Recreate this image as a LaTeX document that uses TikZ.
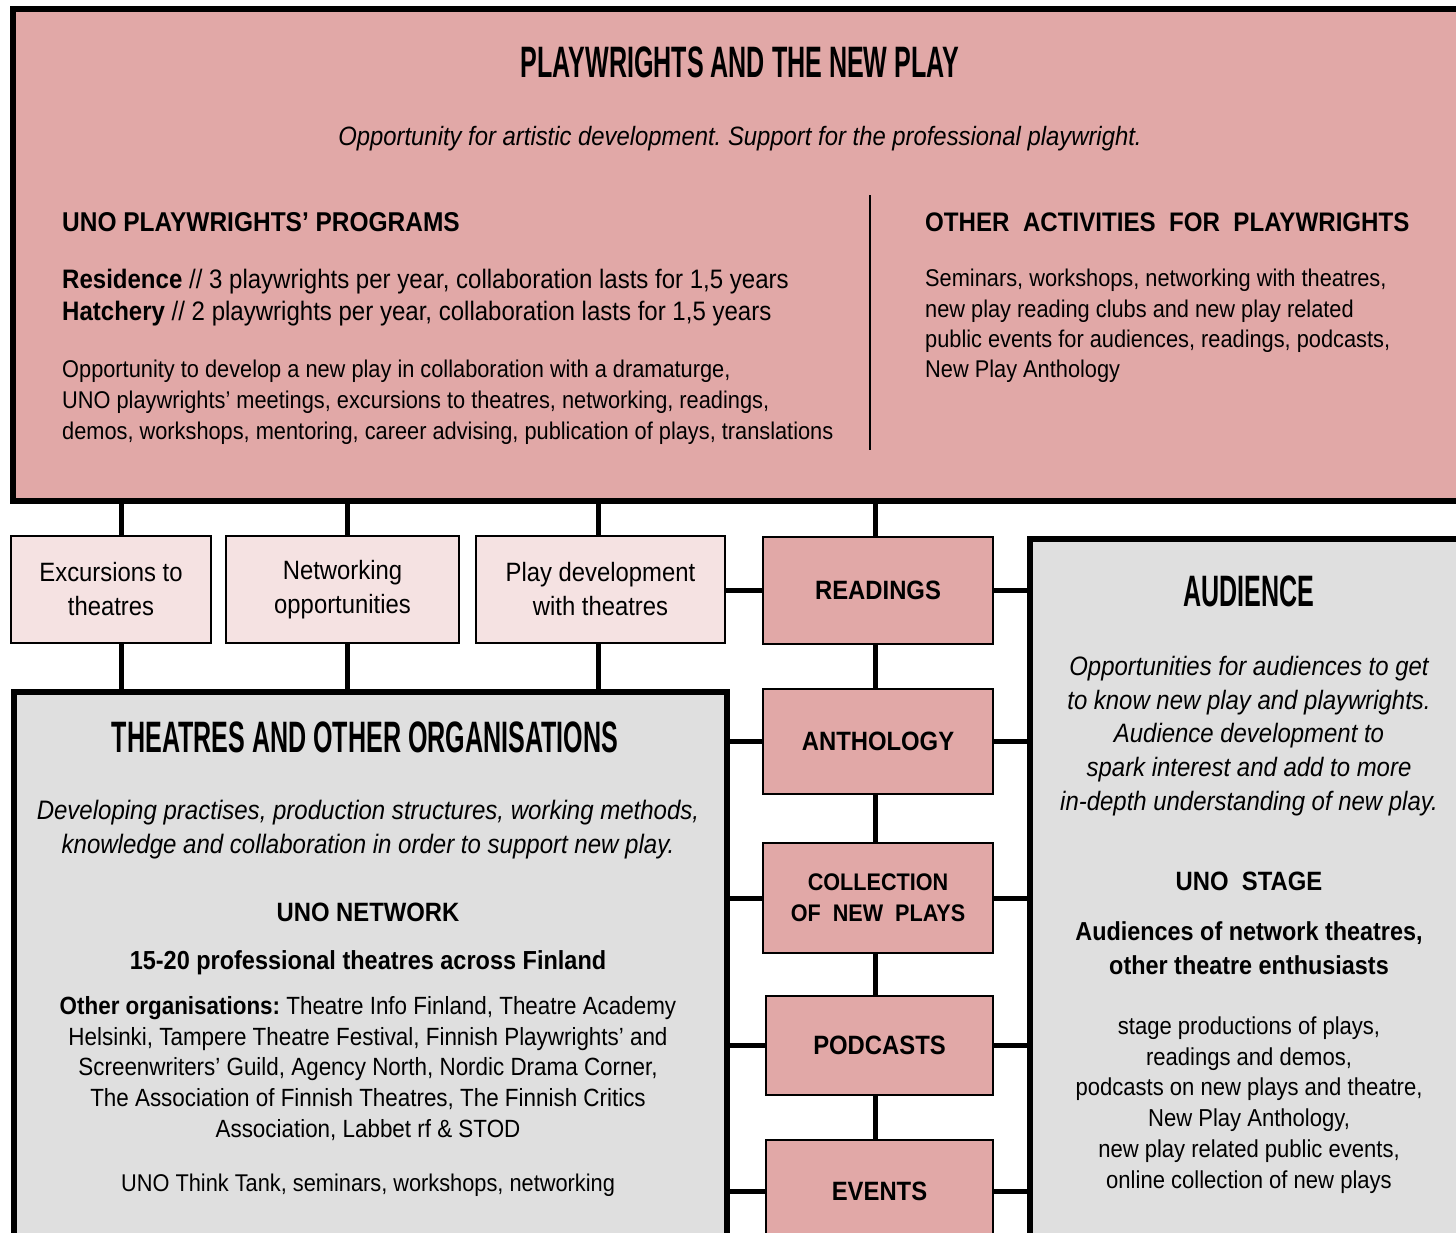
\documentclass[tikz,border=0pt]{standalone}
\usepackage{fontspec}
\setmainfont[FakeStretch=0.9]{Liberation Sans}
\newfontfamily\headfont[FakeStretch=0.57]{Liberation Sans}
\usetikzlibrary{positioning}
\frenchspacing

\definecolor{rosefill}{HTML}{E1A8A7}
\definecolor{palefill}{HTML}{F5E2E2}
\definecolor{greyfill}{HTML}{DFDFDF}

\tikzset{
  bigbox/.style={draw, line width=6pt, inner sep=0pt, anchor=north west},
  smallbox/.style={draw, line width=2pt, fill=palefill, anchor=north west,
    minimum height=107pt, inner sep=0pt, align=center,
    font=\fontsize{26.5}{34}\selectfont},
  colbox/.style={draw, line width=2pt, fill=rosefill, anchor=north west,
    minimum width=230pt, inner sep=0pt, align=center,
    font=\fontsize{26.5}{31}\selectfont\bfseries},
  link/.style={line width=5pt},
  headtext/.style={inner sep=0pt, font=\headfont\bfseries\fontsize{44}{50}\selectfont},
  body/.style={inner sep=0pt, font=\fontsize{24.2}{31}\selectfont},
}

\begin{document}
\begin{tikzpicture}[x=1pt,y=-1pt]
\useasboundingbox (0,0) rectangle (1456,1232);
\clip (0,0) rectangle (1456,1232);

% main boxes
\node[bigbox, fill=rosefill, minimum width=1500pt, minimum height=492pt] (play) at (10,6) {};
\node[bigbox, fill=greyfill, minimum width=713pt, minimum height=600pt] (theatres) at (11,689) {};
\node[bigbox, fill=greyfill, minimum width=500pt, minimum height=760pt] (audience) at (1027,536) {};

% small boxes between
\node[smallbox, minimum width=200pt] (excursions) at (10,535) {Excursions to\\theatres};
\node[smallbox, minimum width=233pt] (networking) at (225,535) {Networking\\opportunities};
\node[smallbox, minimum width=249pt] (playdev) at (475,535) {Play development\\with theatres};

% middle column
\node[colbox, minimum height=107pt] (readings) at (762,536) {READINGS};
\node[colbox, minimum height=105pt] (anthology) at (762,688) {ANTHOLOGY};
\node[colbox, minimum height=110pt, font=\fontsize{24}{31}\selectfont\bfseries] (collection) at (762,842) {COLLECTION\\OF\ \ NEW\ \ PLAYS};
\node[colbox, minimum width=227pt, minimum height=99pt] (podcasts) at (765,995) {PODCASTS};
\node[colbox, minimum width=227pt, minimum height=102pt] (events) at (765,1139) {EVENTS};

% connectors
\draw[link] ([xshift=10pt]play.south -| excursions.north) -- ([xshift=10pt]excursions.north);
\draw[link] ([xshift=10pt]excursions.south) -- ([xshift=10pt]excursions.south |- theatres.north);
\draw[link] ([xshift=5pt]play.south -| networking.north) -- ([xshift=5pt]networking.north);
\draw[link] ([xshift=5pt]networking.south) -- ([xshift=5pt]networking.south |- theatres.north);
\draw[link] ([xshift=-2pt]play.south -| playdev.north) -- ([xshift=-2pt]playdev.north);
\draw[link] ([xshift=-2pt]playdev.south) -- ([xshift=-2pt]playdev.south |- theatres.north);
\draw[link] ([xshift=-3pt]play.south -| readings.north) -- ([xshift=-3pt]readings.north);
\draw[link] (readings.west -| playdev.east) -- (readings.west);
\draw[link] (readings.east) -- (readings.east -| audience.west);
\draw[link] ([xshift=-3pt]readings.south) -- ([xshift=-3pt]anthology.north);
\draw[link] ([xshift=-3pt]anthology.south) -- ([xshift=-3pt]collection.north);
\draw[link] ([xshift=-3pt]collection.south) -- ([xshift=-3pt]collection.south |- podcasts.north);
\draw[link] ([xshift=-3pt]podcasts.south -| collection.south) -- ([xshift=-3pt]events.north -| collection.south);
\foreach \b in {anthology, collection, podcasts, events} {
  \draw[link] (\b.west -| theatres.east) -- (\b.west);
  \draw[link] (\b.east) -- (\b.east -| audience.west);
}

% playwrights box text
\node[headtext] (playtitle) at (740,62) {PLAYWRIGHTS AND THE NEW PLAY};
\node[body, font=\fontsize{26.5}{31}\selectfont\itshape] (playsub) at (740,139)
  {Opportunity for artistic development. Support for the professional playwright.};
\node[body, anchor=west, font=\fontsize{27.2}{31}\selectfont\bfseries] (progtitle) at (62,222)
  {UNO PLAYWRIGHTS’ PROGRAMS};
\node[body, anchor=west, align=left, font=\fontsize{26.7}{32}\selectfont] (progs) at (62,298)
  {\textbf{Residence} // 3 playwrights per year, collaboration lasts for 1,5 years\\
   \textbf{Hatchery} // 2 playwrights per year, collaboration lasts for 1,5 years};
\node[body, anchor=west, align=left] (progtext) at (62,402)
  {Opportunity to develop a new play in collaboration with a dramaturge,\\
   UNO playwrights’ meetings, excursions to theatres, networking, readings,\\
   demos, workshops, mentoring, career advising, publication of plays, translations};
\coordinate (divtop) at (870,195);
\coordinate (divbot) at (870,450);
\draw[line width=2pt] (divtop) -- (divbot);
\node[body, anchor=west, font=\fontsize{26.8}{31}\selectfont\bfseries] (othertitle) at (925,222)
  {OTHER\ \ ACTIVITIES\ \ FOR\ \ PLAYWRIGHTS};
\node[body, anchor=west, align=left, font=\fontsize{24.2}{30.3}\selectfont] (othertext) at (925,326)
  {Seminars, workshops, networking with theatres,\\
   new play reading clubs and new play related\\
   public events for audiences, readings, podcasts,\\
   New Play Anthology};

% theatres box text
\node[headtext] (theatrestitle) at (365,737) {THEATRES AND OTHER ORGANISATIONS};
\node[body, align=center, font=\fontsize{26.7}{34}\selectfont\itshape] (theatressub) at (368,830)
  {Developing practises, production structures, working methods,\\
   knowledge and collaboration in order to support new play.};
\node[body, font=\fontsize{26.5}{31}\selectfont\bfseries] (network) at (368,912) {UNO NETWORK};
\node[body, font=\fontsize{26.1}{31}\selectfont\bfseries] (netcount) at (368,963)
  {15-20 professional theatres across Finland};
\node[body, align=center, font=\fontsize{24.9}{30.8}\selectfont] (orgs) at (368,1068.5)
  {\textbf{Other organisations:} Theatre Info Finland, Theatre Academy\\
   Helsinki, Tampere Theatre Festival, Finnish Playwrights’ and\\
   Screenwriters’ Guild, Agency North, Nordic Drama Corner,\\
   The Association of Finnish Theatres, The Finnish Critics\\
   Association, Labbet rf \& STOD};
\node[body] (thinktank) at (368,1185) {UNO Think Tank, seminars, workshops, networking};

% audience box text
\node[headtext] (audtitle) at (1249,591) {AUDIENCE};
\node[body, align=center, font=\fontsize{26.6}{33.75}\selectfont\itshape] (audsub) at (1249,736)
  {Opportunities for audiences to get\\
   to know new play and playwrights.\\
   Audience development to\\
   spark interest and add to more\\
   in-depth understanding of new play.};
\node[body, font=\fontsize{26.5}{31}\selectfont\bfseries] (stage) at (1249,881) {UNO\ \ STAGE};
\node[body, align=center, font=\fontsize{26}{34}\selectfont\bfseries] (audgroups) at (1249,948)
  {Audiences of network theatres,\\ other theatre enthusiasts};
\node[body, align=center, font=\fontsize{24.5}{30.8}\selectfont] (audlist) at (1249,1105)
  {stage productions of plays,\\
   readings and demos,\\
   podcasts on new plays and theatre,\\
   New Play Anthology,\\
   new play related public events,\\
   online collection of new plays};
\end{tikzpicture}
\end{document}
